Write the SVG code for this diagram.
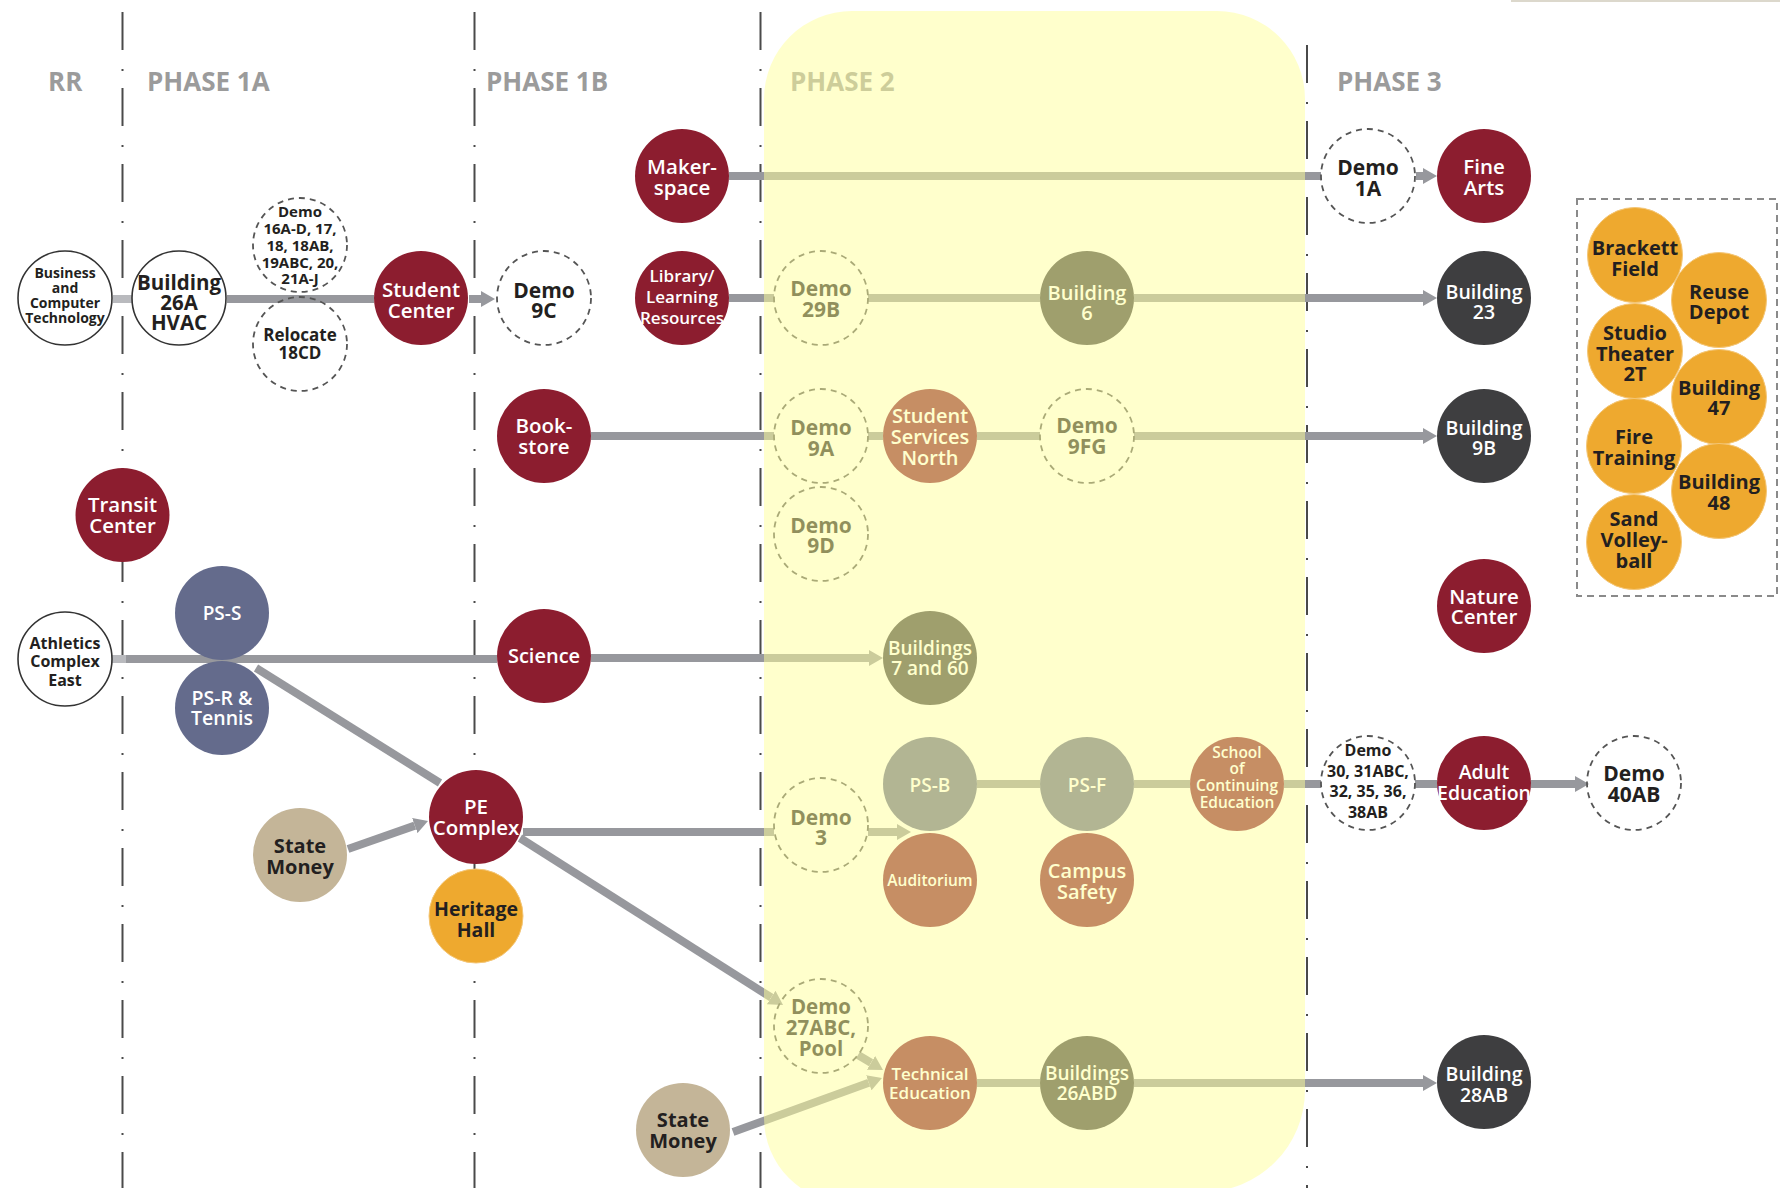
<svg xmlns="http://www.w3.org/2000/svg" width="1780" height="1188" viewBox="0 0 1780 1188">
<defs>
<style>
.div{stroke:#4a4a4a;stroke-width:2;stroke-dasharray:38 19 2 17;fill:none}
.ph{font-family:"Open Sans","Liberation Sans",sans-serif;font-weight:700;font-size:26px;fill:#9B9B9B}
.c{stroke:#97989D;stroke-width:8;fill:none}
.ca{stroke:#97989D;stroke-width:8;fill:none;marker-end:url(#ah)}
.stub{stroke:#B9BABE;stroke-width:8;fill:none}
text{font-family:"Open Sans","Liberation Sans",sans-serif;text-anchor:middle}
.d{fill:#231F20;font-weight:700}
.w{fill:#FFFFFF;font-weight:600}
.sol{fill:#FFFFFF;stroke:#333333;stroke-width:1.6}
.dash{fill:none;stroke:#555555;stroke-width:1.8;stroke-dasharray:6 5}
.m{fill:#8C1D2F}
.k{fill:#3E3E40}
.b{fill:#646B8C}
.tan{fill:#C4B598}
.o{fill:#EEA92F;stroke:#F4C676;stroke-width:1}
</style>
<marker id="ah" markerUnits="userSpaceOnUse" markerWidth="14" markerHeight="16" refX="0" refY="8" orient="auto"><path d="M0,0 L14,8 L0,16 z" fill="#97989D"/></marker>
</defs>
<rect x="0" y="0" width="1780" height="1188" fill="#FFFFFF"/>
<rect x="1511" y="0" width="269" height="2" fill="#DCD8CC"/>

<g id="dividers">
<line class="div" x1="122.5" y1="12" x2="122.5" y2="1188"/>
<line class="div" x1="474.5" y1="12" x2="474.5" y2="1188"/>
<line class="div" x1="760.5" y1="12" x2="760.5" y2="1188"/>
<line class="div" x1="1307" y1="45" x2="1307" y2="1188"/>
</g>

<g id="phase-labels">
<text class="ph" x="48" y="91" style="text-anchor:start">RR</text>
<text class="ph" x="147" y="91" style="text-anchor:start">PHASE 1A</text>
<text class="ph" x="486" y="91" style="text-anchor:start">PHASE 1B</text>
<text class="ph" x="790" y="91" style="text-anchor:start">PHASE 2</text>
<text class="ph" x="1337" y="91" style="text-anchor:start">PHASE 3</text>
</g>

<g id="connectors">
<line class="stub" x1="113" y1="299" x2="132" y2="299"/>
<line class="c" x1="227" y1="299" x2="374" y2="299"/>
<line class="ca" x1="469" y1="299" x2="481" y2="299"/>
<line class="c" x1="729" y1="176" x2="1321" y2="176"/>
<line class="ca" x1="1416" y1="176" x2="1423" y2="176"/>
<line class="c" x1="729" y1="298" x2="774" y2="298"/>
<line class="c" x1="868" y1="298" x2="1040" y2="298"/>
<line class="ca" x1="1134" y1="298" x2="1423" y2="298"/>
<line class="c" x1="591" y1="436" x2="774" y2="436"/>
<line class="c" x1="868" y1="436" x2="883" y2="436"/>
<line class="c" x1="977" y1="436" x2="1040" y2="436"/>
<line class="ca" x1="1134" y1="436" x2="1423" y2="436"/>
<line class="stub" x1="112" y1="659" x2="126" y2="659"/>
<line class="c" x1="126" y1="659" x2="497" y2="659"/>
<line class="ca" x1="591" y1="658" x2="869" y2="658"/>
<line class="c" x1="256" y1="668" x2="440" y2="783"/>
<line class="ca" x1="348" y1="849" x2="414.8" y2="825.6"/>
<line class="c" x1="523" y1="832" x2="774" y2="832"/>
<line class="ca" x1="868" y1="832" x2="897" y2="832"/>
<line class="ca" x1="520" y1="838" x2="771.2" y2="997.5"/>
<line class="ca" x1="858" y1="1055" x2="871" y2="1062.8"/>
<line class="ca" x1="733" y1="1132" x2="868.8" y2="1082.8"/>
<line class="c" x1="977" y1="784" x2="1040" y2="784"/>
<line class="c" x1="1134" y1="784" x2="1190" y2="784"/>
<line class="c" x1="1284" y1="784" x2="1321" y2="784"/>
<line class="c" x1="1415" y1="784" x2="1437" y2="784"/>
<line class="ca" x1="1531" y1="784" x2="1575" y2="784"/>
<line class="c" x1="977" y1="1083" x2="1040" y2="1083"/>
<line class="ca" x1="1134" y1="1083" x2="1423" y2="1083"/>
</g>

<g id="business-computer-technology"><circle class="sol" cx="65" cy="298" r="47"/>
<text class="d" font-size="14"><tspan x="65" y="278">Business</tspan><tspan x="65" y="293">and</tspan><tspan x="65" y="308">Computer</tspan><tspan x="65" y="323">Technology</tspan></text></g>

<g id="building-26a-hvac"><circle class="sol" cx="179" cy="298" r="47"/>
<text class="d" font-size="20.5"><tspan x="179" y="290.4">Building</tspan><tspan x="179" y="310.4">26A</tspan><tspan x="179" y="330.4">HVAC</tspan></text></g>

<g id="demo-16"><circle class="dash" cx="300" cy="245" r="47"/>
<text class="d" font-size="15"><tspan x="300" y="217.4">Demo</tspan><tspan x="300" y="234.1">16A-D, 17,</tspan><tspan x="300" y="250.8">18, 18AB,</tspan><tspan x="300" y="267.5">19ABC, 20,</tspan><tspan x="300" y="284.2">21A-J</tspan></text></g>

<g id="relocate-18cd"><circle class="dash" cx="300" cy="344" r="47"/>
<text class="d" font-size="17"><tspan x="300" y="341.1">Relocate</tspan><tspan x="300" y="359.1">18CD</tspan></text></g>

<g id="student-center"><circle class="m" cx="421" cy="298" r="47"/>
<text class="w" font-size="20.5"><tspan x="421" y="297.4">Student</tspan><tspan x="421" y="317.9">Center</tspan></text></g>

<g id="demo-9c"><circle class="dash" cx="544" cy="298" r="47"/>
<text class="d" font-size="21"><tspan x="544" y="297.6">Demo</tspan><tspan x="544" y="318.1">9C</tspan></text></g>

<g id="makerspace"><circle class="m" cx="682" cy="176" r="47"/>
<text class="w" font-size="20.5"><tspan x="682" y="174.4">Maker-</tspan><tspan x="682" y="195.4">space</tspan></text></g>

<g id="library"><circle class="m" cx="682" cy="298" r="47"/>
<text class="w" font-size="17"><tspan x="682" y="281.6">Library/</tspan><tspan x="682" y="302.6">Learning</tspan><tspan x="682" y="323.6">Resources</tspan></text></g>

<g id="bookstore"><circle class="m" cx="544" cy="436" r="47"/>
<text class="w" font-size="20.5"><tspan x="544" y="433.4">Book-</tspan><tspan x="544" y="453.9">store</tspan></text></g>

<g id="transit-center"><circle class="m" cx="122.5" cy="515" r="47"/>
<text class="w" font-size="20.5"><tspan x="122.5" y="512.4">Transit</tspan><tspan x="122.5" y="533.4">Center</tspan></text></g>

<g id="athletics-complex-east"><circle class="sol" cx="65" cy="659" r="47"/>
<text class="d" font-size="16"><tspan x="65" y="648.8">Athletics</tspan><tspan x="65" y="667.3">Complex</tspan><tspan x="65" y="685.8">East</tspan></text></g>

<g id="ps-s"><circle class="b" cx="222" cy="613" r="47"/>
<text class="w" font-size="19"><tspan x="222" y="619.8">PS-S</tspan></text></g>

<g id="ps-r-tennis"><circle class="b" cx="222" cy="708" r="47"/>
<text class="w" font-size="19.5"><tspan x="222" y="705">PS-R &amp;</tspan><tspan x="222" y="725">Tennis</tspan></text></g>

<g id="science"><circle class="m" cx="544" cy="656" r="47"/>
<text class="w" font-size="20"><tspan x="544" y="663.2">Science</tspan></text></g>

<g id="state-money-1"><circle class="tan" cx="300" cy="855" r="47"/>
<text class="d" font-size="20"><tspan x="300" y="853.2">State</tspan><tspan x="300" y="874.2">Money</tspan></text></g>

<g id="pe-complex"><circle class="m" cx="476" cy="817" r="47"/>
<text class="w" font-size="20.5"><tspan x="476" y="814.4">PE</tspan><tspan x="476" y="835.4">Complex</tspan></text></g>

<g id="heritage-hall"><circle class="o" cx="476" cy="916" r="47"/>
<text class="d" font-size="19.5"><tspan x="476" y="916">Heritage</tspan><tspan x="476" y="937">Hall</tspan></text></g>

<g id="state-money-2"><circle class="tan" cx="683" cy="1130" r="47"/>
<text class="d" font-size="20"><tspan x="683" y="1127.2">State</tspan><tspan x="683" y="1148.2">Money</tspan></text></g>

<g id="demo-29b"><circle class="dash" cx="821" cy="298" r="47"/>
<text class="d" font-size="21"><tspan x="821" y="295.6">Demo</tspan><tspan x="821" y="316.6">29B</tspan></text></g>

<g id="building-6"><circle class="k" cx="1087" cy="298" r="47"/>
<text class="w" font-size="20"><tspan x="1087" y="300.2">Building</tspan><tspan x="1087" y="320.2">6</tspan></text></g>

<g id="demo-9a"><circle class="dash" cx="821" cy="436" r="47"/>
<text class="d" font-size="21"><tspan x="821" y="434.6">Demo</tspan><tspan x="821" y="455.6">9A</tspan></text></g>

<g id="student-services-north"><circle class="m" cx="930" cy="436" r="47"/>
<text class="w" font-size="20"><tspan x="930" y="423.2">Student</tspan><tspan x="930" y="444.2">Services</tspan><tspan x="930" y="465.2">North</tspan></text></g>

<g id="demo-9fg"><circle class="dash" cx="1087" cy="436" r="47"/>
<text class="d" font-size="21"><tspan x="1087" y="432.6">Demo</tspan><tspan x="1087" y="453.6">9FG</tspan></text></g>

<g id="demo-9d"><circle class="dash" cx="821" cy="534" r="47"/>
<text class="d" font-size="21"><tspan x="821" y="532.6">Demo</tspan><tspan x="821" y="552.6">9D</tspan></text></g>

<g id="buildings-7-60"><circle class="k" cx="930" cy="658" r="47"/>
<text class="w" font-size="19"><tspan x="930" y="654.8">Buildings</tspan><tspan x="930" y="674.8">7 and 60</tspan></text></g>

<g id="ps-b"><circle class="b" cx="930" cy="784" r="47"/>
<text class="w" font-size="19"><tspan x="930" y="791.8">PS-B</tspan></text></g>

<g id="ps-f"><circle class="b" cx="1087" cy="784" r="47"/>
<text class="w" font-size="19"><tspan x="1087" y="791.8">PS-F</tspan></text></g>

<g id="school-continuing-education"><circle class="m" cx="1237" cy="784" r="47"/>
<text class="w" font-size="15.5"><tspan x="1237" y="757.6">School</tspan><tspan x="1237" y="774.3">of</tspan><tspan x="1237" y="791">Continuing</tspan><tspan x="1237" y="807.7">Education</tspan></text></g>

<g id="demo-3"><circle class="dash" cx="821" cy="825" r="47"/>
<text class="d" font-size="21"><tspan x="821" y="824.6">Demo</tspan><tspan x="821" y="844.6">3</tspan></text></g>

<g id="auditorium"><circle class="m" cx="930" cy="880" r="47"/>
<text class="w" font-size="15.5"><tspan x="930" y="885.6">Auditorium</tspan></text></g>

<g id="campus-safety"><circle class="m" cx="1087" cy="880" r="47"/>
<text class="w" font-size="20"><tspan x="1087" y="878.2">Campus</tspan><tspan x="1087" y="899.2">Safety</tspan></text></g>

<g id="demo-27abc-pool"><circle class="dash" cx="821" cy="1026" r="47"/>
<text class="d" font-size="20.5"><tspan x="821" y="1014.4">Demo</tspan><tspan x="821" y="1035.4">27ABC,</tspan><tspan x="821" y="1056.4">Pool</tspan></text></g>

<g id="technical-education"><circle class="m" cx="930" cy="1083" r="47"/>
<text class="w" font-size="17"><tspan x="930" y="1080.1">Technical</tspan><tspan x="930" y="1099.1">Education</tspan></text></g>

<g id="buildings-26abd"><circle class="k" cx="1087" cy="1083" r="47"/>
<text class="w" font-size="19"><tspan x="1087" y="1079.8">Buildings</tspan><tspan x="1087" y="1099.8">26ABD</tspan></text></g>

<path id="phase2-zone" d="M852,11 H1217 A88,88 0 0 1 1305,99 V1090 A102,102 0 0 1 1203,1192 L849,1203 A85,85 0 0 1 764,1118 V99 A88,88 0 0 1 852,11 Z" fill="#FFFF99" fill-opacity="0.5"/>

<g id="demo-1a"><circle class="dash" cx="1368" cy="176" r="47"/>
<text class="d" font-size="21"><tspan x="1368" y="174.6">Demo</tspan><tspan x="1368" y="195.6">1A</tspan></text></g>

<g id="fine-arts"><circle class="m" cx="1484" cy="176" r="47"/>
<text class="w" font-size="20.5"><tspan x="1484" y="174.4">Fine</tspan><tspan x="1484" y="195.4">Arts</tspan></text></g>

<g id="building-23"><circle class="k" cx="1484" cy="298" r="47"/>
<text class="w" font-size="19.5"><tspan x="1484" y="299">Building</tspan><tspan x="1484" y="319">23</tspan></text></g>

<g id="building-9b"><circle class="k" cx="1484" cy="436" r="47"/>
<text class="w" font-size="19.5"><tspan x="1484" y="435">Building</tspan><tspan x="1484" y="455">9B</tspan></text></g>

<g id="nature-center"><circle class="m" cx="1484" cy="606" r="47"/>
<text class="w" font-size="20.5"><tspan x="1484" y="604.4">Nature</tspan><tspan x="1484" y="624.4">Center</tspan></text></g>

<g id="demo-30"><circle class="dash" cx="1368" cy="783" r="47"/>
<text class="d" font-size="16"><tspan x="1368" y="755.8">Demo</tspan><tspan x="1368" y="776.5">30, 31ABC,</tspan><tspan x="1368" y="797.2">32, 35, 36,</tspan><tspan x="1368" y="817.9">38AB</tspan></text></g>

<g id="adult-education"><circle class="m" cx="1484" cy="783" r="47"/>
<text class="w" font-size="19.5"><tspan x="1484" y="779">Adult</tspan><tspan x="1484" y="800">Education</tspan></text></g>

<g id="demo-40ab"><circle class="dash" cx="1634" cy="783" r="47"/>
<text class="d" font-size="21"><tspan x="1634" y="780.6">Demo</tspan><tspan x="1634" y="801.6">40AB</tspan></text></g>

<g id="building-28ab"><circle class="k" cx="1484" cy="1082" r="47"/>
<text class="w" font-size="19.5"><tspan x="1484" y="1081">Building</tspan><tspan x="1484" y="1102">28AB</tspan></text></g>

<g id="future-group">
<rect x="1577" y="199" width="200" height="397" fill="none" stroke="#8A8A8A" stroke-width="2" stroke-dasharray="7 5"/>
</g>

<g id="brackett-field"><circle class="o" cx="1635" cy="255" r="47.5"/>
<text class="d" font-size="20"><tspan x="1635" y="255.2">Brackett</tspan><tspan x="1635" y="276.2">Field</tspan></text></g>

<g id="reuse-depot"><circle class="o" cx="1719" cy="300" r="47.5"/>
<text class="d" font-size="20"><tspan x="1719" y="299.2">Reuse</tspan><tspan x="1719" y="319.2">Depot</tspan></text></g>

<g id="studio-theater"><circle class="o" cx="1635" cy="351" r="47.5"/>
<text class="d" font-size="20"><tspan x="1635" y="340.2">Studio</tspan><tspan x="1635" y="360.7">Theater</tspan><tspan x="1635" y="381.2">2T</tspan></text></g>

<g id="building-47"><circle class="o" cx="1719" cy="397" r="47.5"/>
<text class="d" font-size="20"><tspan x="1719" y="395.2">Building</tspan><tspan x="1719" y="415.2">47</tspan></text></g>

<g id="fire-training"><circle class="o" cx="1634" cy="446" r="47.5"/>
<text class="d" font-size="20"><tspan x="1634" y="444.2">Fire</tspan><tspan x="1634" y="465.2">Training</tspan></text></g>

<g id="building-48"><circle class="o" cx="1719" cy="491" r="47.5"/>
<text class="d" font-size="20"><tspan x="1719" y="489.2">Building</tspan><tspan x="1719" y="510.2">48</tspan></text></g>

<g id="sand-volleyball"><circle class="o" cx="1634" cy="542" r="47.5"/>
<text class="d" font-size="20"><tspan x="1634" y="526.2">Sand</tspan><tspan x="1634" y="547.2">Volley-</tspan><tspan x="1634" y="568.2">ball</tspan></text></g>
</svg>
